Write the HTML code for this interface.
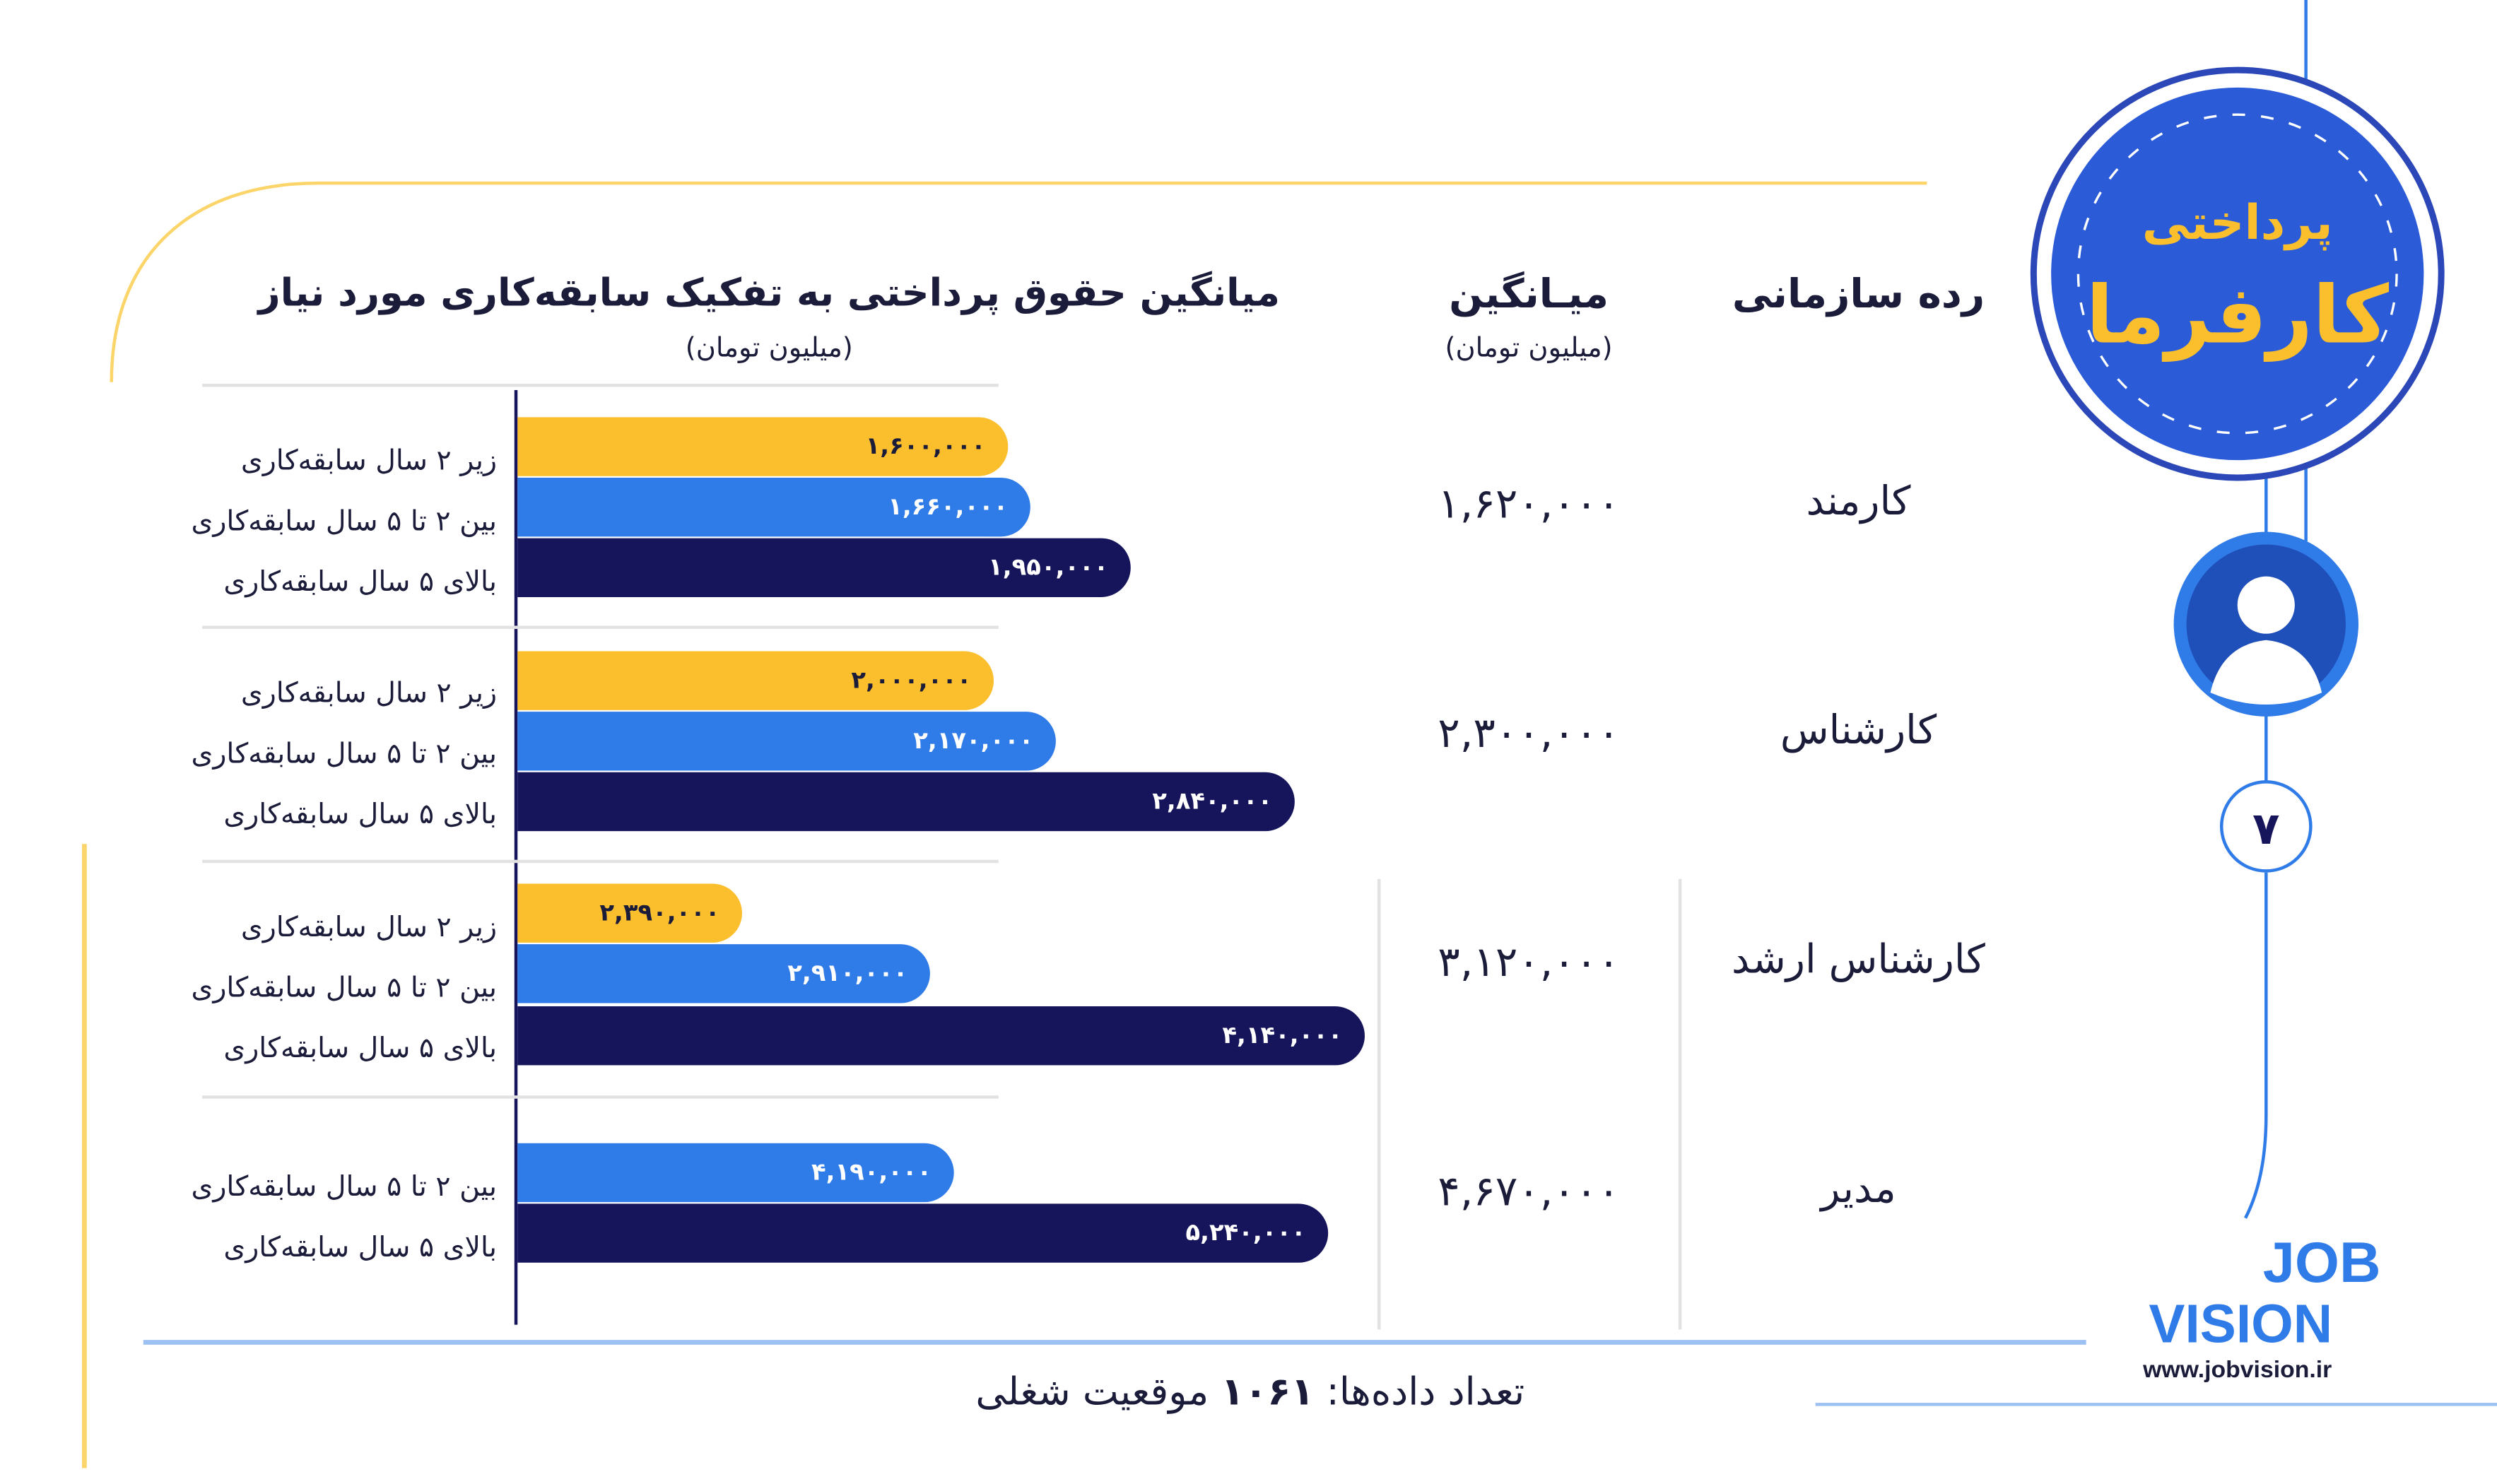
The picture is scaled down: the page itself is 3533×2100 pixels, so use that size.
<!DOCTYPE html>
<html><head><meta charset="utf-8">
<style>
html,body{margin:0;padding:0;background:#fff;}
body{width:3533px;height:2100px;overflow:hidden;}
#s{position:absolute;left:0;top:0;width:1568px;height:932px;transform:scale(2.2532);transform-origin:0 0;font-family:"DejaVu Sans",sans-serif;color:#1b1b3a;}
.a{position:absolute;}
.bar{position:absolute;left:325px;height:37px;border-radius:0 19px 19px 0;color:#fff;font-weight:bold;font-size:15px;line-height:37px;text-align:right;box-sizing:border-box;padding-right:14px;direction:ltr;}
.y{background:#FBBF2E;color:#1b1b3a;}
.b{background:#2F7BE8;}
.n{background:#16145A;}
.lab{position:absolute;right:1256px;font-size:17.5px;direction:rtl;white-space:nowrap;}
.sep{position:absolute;left:127px;width:500px;height:2px;background:#e2e2e2;}
.val{position:absolute;width:200px;text-align:center;font-size:26px;}
.cat{position:absolute;width:220px;text-align:center;font-size:25px;direction:rtl;}
</style></head><body><div id="s">
<svg class="a" style="left:0;top:0" width="1568" height="932">
<path d="M70,240 C70,160 120,115 200,115 L1210,115" fill="none" stroke="#FBD56A" stroke-width="2"/>
<line x1="53" y1="530" x2="53" y2="922" stroke="#FBD56A" stroke-width="3"/>
<line x1="90" y1="843" x2="1310" y2="843" stroke="#9CC0F2" stroke-width="3"/>
<line x1="1140" y1="882" x2="1568" y2="882" stroke="#9CC0F2" stroke-width="2"/>
<line x1="324" y1="245" x2="324" y2="832" stroke="#16145A" stroke-width="2"/>
<line x1="866" y1="552" x2="866" y2="835" stroke="#e2e2e2" stroke-width="2"/>
<line x1="1055" y1="552" x2="1055" y2="835" stroke="#e2e2e2" stroke-width="2"/>
<line x1="1448" y1="0" x2="1448" y2="340" stroke="#2F7BE8" stroke-width="2"/>
<line x1="1423" y1="290" x2="1423" y2="335" stroke="#2F7BE8" stroke-width="2"/>
<line x1="1423" y1="450" x2="1423" y2="491" stroke="#2F7BE8" stroke-width="2"/>
<path d="M1423,548 L1423,700 Q1423,740 1410,765" fill="none" stroke="#2F7BE8" stroke-width="2"/>
<circle cx="1405" cy="172" r="128" fill="#fff" stroke="#2B47B8" stroke-width="4"/>
<circle cx="1405" cy="172" r="117" fill="#2B5BD7"/>
<circle cx="1405" cy="172" r="100" fill="none" stroke="#fff" stroke-width="1.5" stroke-dasharray="8 10"/>
<text x="1405" y="150" text-anchor="middle" font-family="DejaVu Sans" font-size="30" font-weight="bold" fill="#FBBF2E">پرداختی</text>
<text x="1405" y="215" text-anchor="middle" font-family="DejaVu Sans" font-size="50" font-weight="bold" fill="#FBBF2E">کارفرما</text>
<circle cx="1423" cy="392" r="58" fill="#2F7BE8"/>
<circle cx="1423" cy="392" r="50" fill="#1F4FB8"/>
<circle cx="1423" cy="380" r="18" fill="#fff"/>
<path d="M1388,435 Q1395,405 1423,402 Q1451,405 1458,435 Q1423,450 1388,435Z" fill="#fff"/>
<circle cx="1423" cy="519" r="28" fill="#fff" stroke="#2F7BE8" stroke-width="2"/>
<text x="1423" y="530" text-anchor="middle" font-family="DejaVu Sans" font-size="28" font-weight="bold" fill="#16145A">۷</text>
<text x="1495" y="805" text-anchor="end" font-family="Liberation Sans" font-size="36" font-weight="bold" fill="#2F7BE8">JOB</text>
<text x="1407" y="843" text-anchor="middle" font-family="Liberation Sans" font-size="34" font-weight="bold" fill="#2F7BE8">VISION</text>
<text x="1405" y="865" text-anchor="middle" font-family="Liberation Sans" font-size="15" font-weight="bold" fill="#1b1b3a">www.jobvision.ir</text>
</svg>

<div class="a" style="left:120px;top:170px;width:726px;text-align:center;font-size:24px;font-weight:bold;direction:rtl;">میانگین حقوق پرداختی به تفکیک سابقه‌کاری مورد نیاز</div>
<div class="a" style="left:383px;top:209px;width:200px;text-align:center;font-size:17px;direction:rtl;">(میلیون تومان)</div>
<div class="a" style="left:860px;top:170px;width:200px;text-align:center;font-size:25px;font-weight:bold;">میـانگین</div>
<div class="a" style="left:860px;top:209px;width:200px;text-align:center;font-size:17px;direction:rtl;">(میلیون تومان)</div>
<div class="a" style="left:1057px;top:170px;width:220px;text-align:center;font-size:25px;font-weight:bold;direction:rtl;">رده سازمانی</div>

<div class="sep" style="top:241px"></div>
<div class="sep" style="top:393px"></div>
<div class="sep" style="top:540px"></div>
<div class="sep" style="top:688px"></div>

<div class="bar y" style="top:262px;width:308px">۱,۶۰۰,۰۰۰</div>
<div class="bar b" style="top:300px;width:322px">۱,۶۶۰,۰۰۰</div>
<div class="bar n" style="top:338px;width:385px">۱,۹۵۰,۰۰۰</div>
<div class="bar y" style="top:409px;width:299px">۲,۰۰۰,۰۰۰</div>
<div class="bar b" style="top:447px;width:338px">۲,۱۷۰,۰۰۰</div>
<div class="bar n" style="top:485px;width:488px">۲,۸۴۰,۰۰۰</div>
<div class="bar y" style="top:555px;width:141px">۲,۳۹۰,۰۰۰</div>
<div class="bar b" style="top:593px;width:259px">۲,۹۱۰,۰۰۰</div>
<div class="bar n" style="top:632px;width:532px">۴,۱۴۰,۰۰۰</div>
<div class="bar b" style="top:718px;width:274px">۴,۱۹۰,۰۰۰</div>
<div class="bar n" style="top:756px;width:509px">۵,۲۴۰,۰۰۰</div>

<div class="lab" style="top:280px">زیر ۲ سال سابقه‌کاری</div>
<div class="lab" style="top:318px">بین ۲ تا ۵ سال سابقه‌کاری</div>
<div class="lab" style="top:356px">بالای ۵ سال سابقه‌کاری</div>
<div class="lab" style="top:426px">زیر ۲ سال سابقه‌کاری</div>
<div class="lab" style="top:464px">بین ۲ تا ۵ سال سابقه‌کاری</div>
<div class="lab" style="top:502px">بالای ۵ سال سابقه‌کاری</div>
<div class="lab" style="top:573px">زیر ۲ سال سابقه‌کاری</div>
<div class="lab" style="top:611px">بین ۲ تا ۵ سال سابقه‌کاری</div>
<div class="lab" style="top:649px">بالای ۵ سال سابقه‌کاری</div>
<div class="lab" style="top:736px">بین ۲ تا ۵ سال سابقه‌کاری</div>
<div class="lab" style="top:774px">بالای ۵ سال سابقه‌کاری</div>

<div class="val" style="left:860px;top:302px">۱,۶۲۰,۰۰۰</div>
<div class="val" style="left:860px;top:446px">۲,۳۰۰,۰۰۰</div>
<div class="val" style="left:860px;top:590px">۳,۱۲۰,۰۰۰</div>
<div class="val" style="left:860px;top:734px">۴,۶۷۰,۰۰۰</div>
<div class="cat" style="left:1057px;top:300px">کارمند</div>
<div class="cat" style="left:1057px;top:444px">کارشناس</div>
<div class="cat" style="left:1057px;top:588px">کارشناس ارشد</div>
<div class="cat" style="left:1057px;top:732px">مدیر</div>

<div class="a" style="left:535px;top:860px;width:500px;text-align:center;font-size:24px;direction:rtl;">تعداد داده‌ها: <b>۱۰۶۱</b> موقعیت شغلی</div>
</div></body></html>
